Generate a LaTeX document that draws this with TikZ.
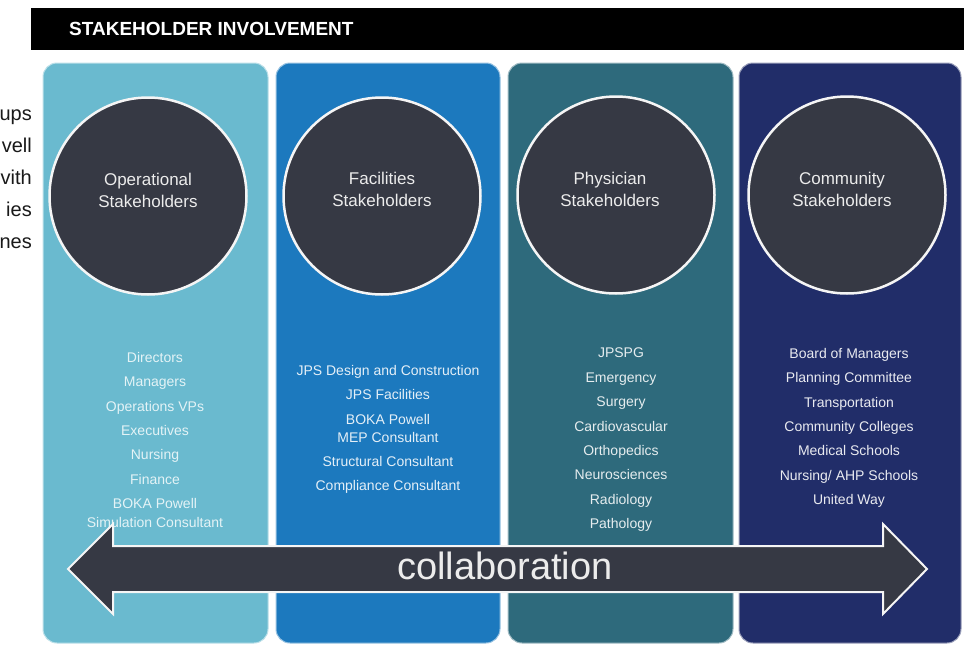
\documentclass[tikz,border=0pt]{standalone}
\usepackage{fontspec}
\setmainfont{Liberation Sans}
\usepackage{xcolor}
\usepackage{tikz}
\usetikzlibrary{positioning,calc}

\definecolor{opblue}{RGB}{106,186,207}
\definecolor{facblue}{RGB}{28,121,190}
\definecolor{phyteal}{RGB}{46,106,124}
\definecolor{comnavy}{RGB}{33,45,105}
\definecolor{hubgray}{RGB}{54,57,68}
\definecolor{hubtxt}{RGB}{236,236,236}

\begin{document}
\begin{tikzpicture}[x=1pt,y=-1pt,
		panel/.style={rounded corners=14pt, draw=white!55!#1, line width=1pt, fill=#1},
		hub/.style={circle, fill=hubgray, draw=white!92!gray, line width=2.5pt, minimum size=197pt, inner sep=0pt},
		hubtext/.style={text=hubtxt, align=center, inner sep=0pt, font=\fontsize{17}{22}\selectfont},
		listtext/.style={anchor=north, align=center, inner sep=0pt, font=\fontsize{14}{24.4}\selectfont},
		fragtext/.style={anchor=base east, inner sep=0pt, text=black!90, font=\fontsize{20}{20}\selectfont}]
		\clip (0,0) rectangle (964,645);
		\fill[white] (0,0) rectangle (964,645);

		% title bar
		\fill[black] (31,8) rectangle (964,50);
		\node[anchor=west, inner sep=0pt, text=white, font=\bfseries\fontsize{19}{19}\selectfont] (title) at (69,29) {STAKEHOLDER INVOLVEMENT};

		% text running in from the left
		\node[fragtext] (f1) at (32,120) {ups};
		\node[fragtext] (f2) at (32,152) {vell};
		\node[fragtext] (f3) at (32,184) {vith};
		\node[fragtext] (f4) at (32,216) {ies};
		\node[fragtext] (f5) at (32,248) {nes};

		% the four columns
		\draw[panel=opblue] (43,63) rectangle (268,643);
		\draw[panel=facblue] (276,63) rectangle (500,643);
		\draw[panel=phyteal] (508,63) rectangle (733,643);
		\draw[panel=comnavy] (739,63) rectangle (961,643);

		\node[hub] (opc) at (148,196) {};
		\node[hub] (facc) at (382,196) {};
		\node[hub] (phyc) at (616,195) {};
		\node[hub] (comc) at (847,195) {};

		\node[hubtext] (opt) at (148,190) {Operational\\Stakeholders};
		\node[hubtext] (fact) at (382,189) {Facilities\\Stakeholders};
		\node[hubtext] (phyt) at (610,189) {Physician\\Stakeholders};
		\node[hubtext] (comt) at (842,189) {Community\\Stakeholders};

		% who sits in each group
		\node[listtext, text=white!82!opblue] (oplist) at (155,352) {Directors\\Managers\\Operations VPs\\Executives\\Nursing\\Finance\\BOKA Powell\\[-5.4pt]Simulation Consultant};
		\node[listtext, text=white!88!facblue] (faclist) at (388,365) {JPS Design and Construction\\JPS Facilities\\BOKA Powell\\[-6.4pt]MEP Consultant\\Structural Consultant\\Compliance Consultant};
		\node[listtext, text=white!88!phyteal] (phylist) at (621,348) {JPSPG\\Emergency\\Surgery\\Cardiovascular\\Orthopedics\\Neurosciences\\Radiology\\Pathology};
		\node[listtext, text=white!90!comnavy] (comlist) at (849,348) {Board of Managers\\Planning Committee\\Transportation\\Community Colleges\\Medical Schools\\Nursing/ AHP Schools\\United Way};

		% double arrow across all groups
		\filldraw[fill=hubgray, draw=white!92!gray, line width=2pt, line join=miter]
			(68,569) -- (113,524) -- (113,546) -- (883,546) -- (883,524) -- (927,569)
			-- (883,614) -- (883,592) -- (113,592) -- (113,614) -- cycle;
		\node[text=hubtxt, inner sep=0pt, font=\fontsize{38}{38}\selectfont] (collab) at (505,566) {collaboration};
	\end{tikzpicture}
\end{document}
